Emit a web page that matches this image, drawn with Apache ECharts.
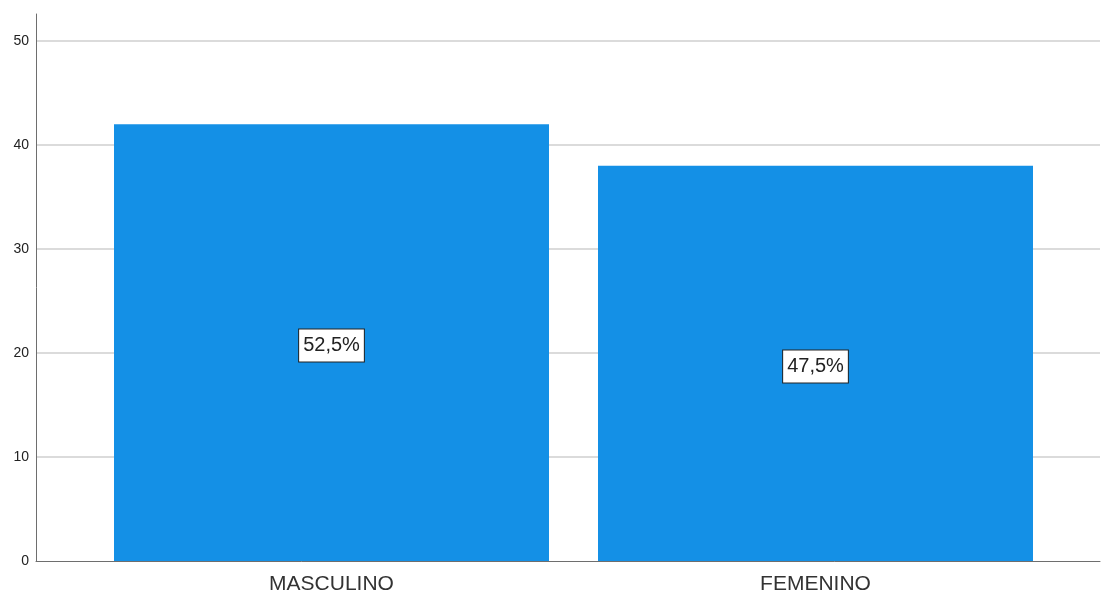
<!DOCTYPE html>
<html>
<head>
<meta charset="utf-8">
<script src="https://cdn.jsdelivr.net/npm/echarts@6/dist/echarts.min.js"></script>
<style>
  html, body { margin: 0; padding: 0; background: #fff; }
  #main { width: 1101px; height: 595px; }
</style>
</head>
<body>
<div id="main"></div>
<script>
var categories = ['MASCULINO', 'FEMENINO'];
var counts = [42, 38];
var percentLabels = ['52,5%', '47,5%'];
var yTicks = [0, 10, 20, 30, 40, 50];

var myChart = echarts.init(document.getElementById('main'));
var yMax = 52.6;
var font = 'Liberation Sans, Arial, sans-serif';

var option = {
    backgroundColor: '#ffffff',
    animation: false,
    textStyle: { fontFamily: font },
    grid: [
        // axis frame + gridlines
        { left: 36, right: 1, top: 14, bottom: 34 },
        // bars
        { left: 89.5, right: 43.5, top: 14, bottom: 34 }
    ],
    xAxis: [{
        gridIndex: 0,
        type: 'value',
        min: 0,
        max: 1,
        axisLine: { show: true, lineStyle: { color: '#6e6e6e', width: 1 } },
        axisTick: { show: false },
        axisLabel: { show: false },
        splitLine: { show: false }
    }, {
        gridIndex: 1,
        type: 'category',
        data: categories,
        axisLine: { show: false },
        axisTick: { show: false },
        axisLabel: { color: '#333', fontSize: 21, fontFamily: font, margin: 13 }
    }],
    yAxis: [{
        gridIndex: 0,
        type: 'value',
        min: 0,
        max: yMax,
        interval: 10,
        axisLine: { show: true, lineStyle: { color: '#6e6e6e', width: 1 } },
        axisTick: { show: false },
        axisLabel: {
            color: '#222',
            fontSize: 14,
            fontFamily: font,
            margin: 7,
            showMaxLabel: false,
            formatter: function (v) { return yTicks.indexOf(v) >= 0 ? String(v) : ''; }
        },
        splitLine: { show: true, showMaxLine: false, showMinLine: false, lineStyle: { color: '#cfcfcf', width: 1.5 } }
    }, {
        gridIndex: 1,
        type: 'value',
        min: 0,
        max: yMax,
        show: false,
        splitLine: { show: false }
    }],
    series: [{
        type: 'bar',
        xAxisIndex: 1,
        yAxisIndex: 1,
        data: counts,
        barWidth: 435,
        itemStyle: { color: '#1490e6' },
        label: {
            show: true,
            position: 'inside',
            offset: [0, 3],
            formatter: function (p) { return percentLabels[p.dataIndex]; },
            color: '#222',
            fontSize: 20,
            fontFamily: font,
            backgroundColor: '#ffffff',
            borderColor: '#222',
            borderWidth: 1,
            padding: [6, 4, 6, 4]
        }
    }]
};
myChart.setOption(option);
</script>
</body>
</html>
